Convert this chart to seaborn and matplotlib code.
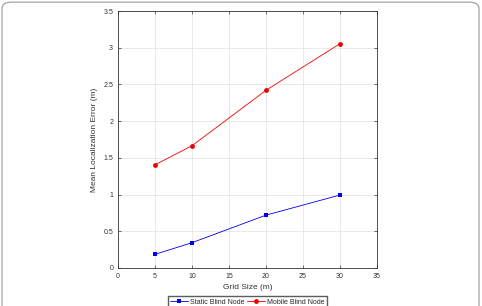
import numpy as np
import pandas as pd
import matplotlib.pyplot as plt
import seaborn as sb
from matplotlib.lines import Line2D
from matplotlib.patches import FancyBboxPatch

grid_size = [5, 10, 20, 30]
static_err = [0.186, 0.345, 0.72, 0.994]
mobile_err = [1.405, 1.665, 2.42, 3.055]
series_names = ["Static Blind Node", "Mobile Blind Node"]
colors = ["#0000ee", "#ee0000"]
marks = ["s", "o"]

df = pd.DataFrame({
    "Grid Size (m)": grid_size * 2,
    "Mean Localization Error (m)": static_err + mobile_err,
    "series": [series_names[0]] * 4 + [series_names[1]] * 4,
})

sb.set_style("white")
plt.rcParams["font.family"] = ["Liberation Sans", "DejaVu Sans"]

fig = plt.figure(figsize=(4.82, 3.06), dpi=100)
ax = fig.add_axes([118 / 482, 1 - 268 / 306, (377 - 118) / 482, (268 - 11) / 306])

sb.lineplot(data=df, x="Grid Size (m)", y="Mean Localization Error (m)", hue="series",
            style="series", markers=marks, dashes=False,
            palette=colors, markersize=3.5, linewidth=0.6,
            markeredgewidth=0, ax=ax, legend=False)

ax.set_xlim(0, 35)
ax.set_ylim(0, 3.5)
ax.set_xticks(np.arange(0, 36, 5))
ax.set_yticks(np.arange(0, 3.6, 0.5))
ax.set_yticklabels(["0", "0.5", "1", "1.5", "2", "2.5", "3", "3.5"])
ax.grid(True, color="#e6e6e6", linewidth=0.6)
ax.tick_params(labelsize=5, colors="#333333", length=2, width=0.5, direction="in",
               top=True, right=True, bottom=True, left=True)
for s in ax.spines.values():
    s.set_color("#333333")
    s.set_linewidth(0.6)
ax.set_xlabel("Grid Size (m)", fontsize=6, color="#333333", labelpad=3)
ax.set_ylabel("Mean Localization Error (m)", fontsize=6, color="#333333", labelpad=4)

handles = [Line2D([], [], color=c, marker=m, markersize=3.5, linewidth=0.6,
                  markeredgewidth=0) for c, m in zip(colors, marks)]
ax.legend(handles, series_names, loc="upper center", bbox_to_anchor=(0.5, -0.11),
          ncol=2, fontsize=5, frameon=True, fancybox=False, edgecolor="#333333",
          handlelength=2.6, borderpad=0.35, columnspacing=0.3, handletextpad=0.3,
          borderaxespad=0)

fig.patches.append(FancyBboxPatch((2 / 482, -0.1), 477 / 482, 1.093, transform=fig.transFigure,
                                  boxstyle="round,pad=0,rounding_size=0.02",
                                  fill=False, edgecolor="#999999", linewidth=0.8))

fig.savefig("out.png", dpi=100)
